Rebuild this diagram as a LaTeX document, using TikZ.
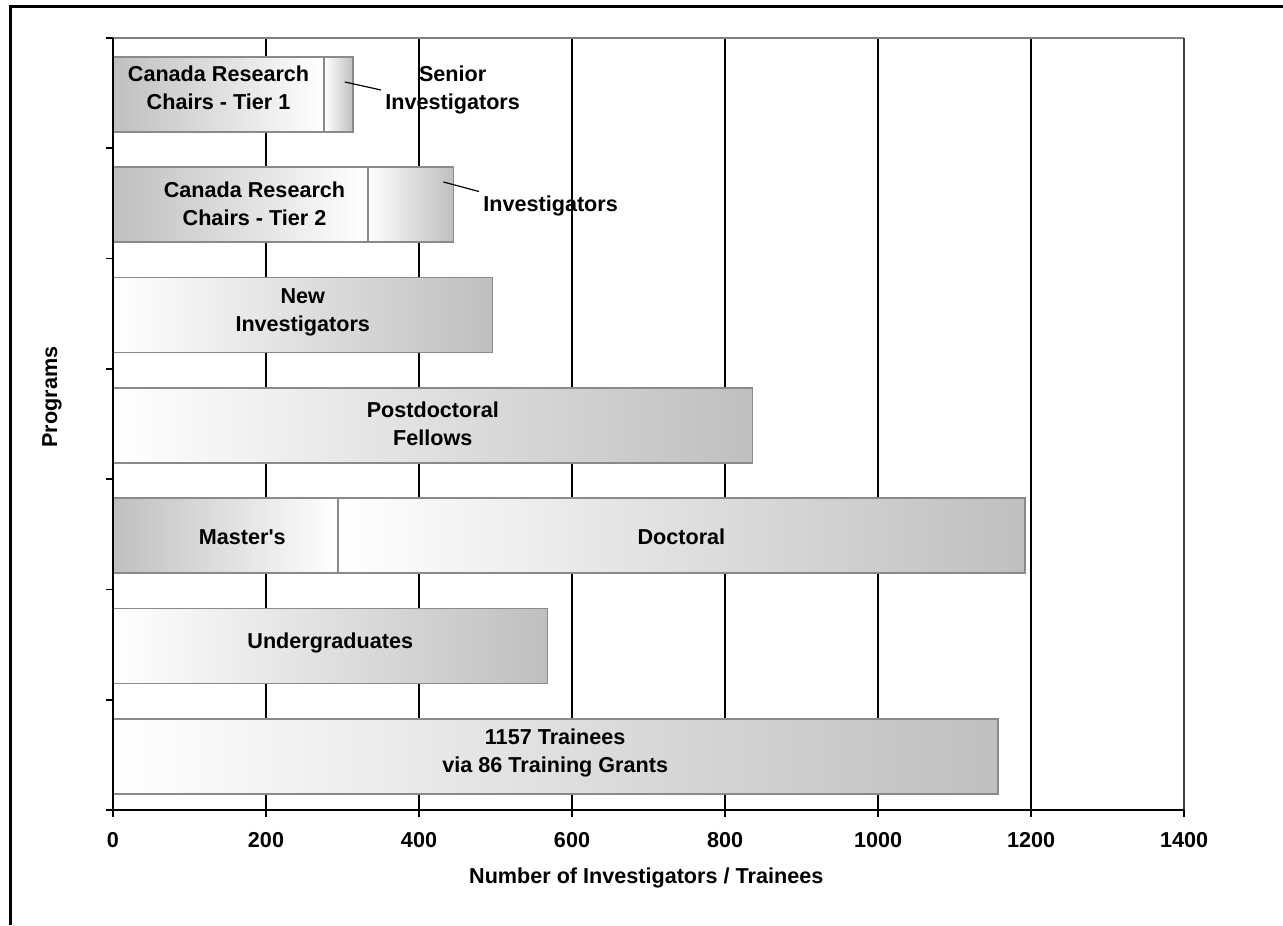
\documentclass[tikz,border=0pt]{standalone}
\usepackage{fontspec}
\setmainfont{Liberation Sans}
\definecolor{barline}{HTML}{8A8A8A}
\definecolor{barshade}{HTML}{BFBFBF}
\begin{document}
\begin{tikzpicture}[
	% pixel grid, y runs downwards
	x={(0.5pt,0)},
	y={(0,-0.5pt)},
	font=\bfseries\fontsize{10.8}{14}\selectfont,
	frame/.style={black,line width=1.5pt},
	axis/.style={black,line width=0.9pt},
	gridline/.style={black,line width=0.75pt},
	lbl/.style={align=center,inner sep=2pt},
	leader/.style={black,line width=0.6pt}
	]
	\useasboundingbox (0,0) rectangle (1283,925);
	% outer frame (cut by the page at right and bottom)
	\draw[frame] (10,925) -- (10,7) -- (1283,7);
	\node[rotate=90] (ytitle) at (52,397) {Programs};
	
	%
	% Plot area: x in data units, y in pixels
	%
	\begin{scope}[shift={(113,38)},x={(0.3825pt,0)}]
	% grid 200 -> 1200
	\foreach \v in {200,400,...,1200}{
		\draw[gridline] (\v,0) -- (\v,772);
	}
	\draw[gray,line width=0.75pt] (0,0) -- (1400,0);
	\draw[black!75,line width=0.9pt] (1400,0) -- (1400,772);
	
	% bars: row/from/to/left colour/right colour
	\foreach \i/\a/\b/\lc/\rc in {0/0/276/barshade/white, 0/276/314/white/barshade,
		1/0/333/barshade/white, 1/333/445/white/barshade, 2/0/496/white/barshade,
		3/0/836/white/barshade, 4/0/294/barshade/white, 4/294/1192/white/barshade,
		5/0/568/white/barshade, 6/0/1157/white/barshade}{
		\draw[draw=barline,line width=0.9pt,left color=\lc,right color=\rc]
		(\a,\i*110.29+19) rectangle (\b,\i*110.29+94);
	}
	
	% axes and ticks
	\draw[axis] (0,0) -- (0,772) -- (1400,772);
	\foreach \i in {0,...,7}{
		\draw[axis] (-9,\i*110.29) -- (0,\i*110.29);
	}
	\foreach \v in {0,200,...,1400}{
		\draw[axis] (\v,772) -- (\v,779);
		\node (tick\v) at (\v,802) {\v};
	}
	\node (xtitle) at (697,840) {Number of Investigators / Trainees};
	
	% bar labels
	\node[lbl] (tierone) at (138,50) {Canada Research\\Chairs - Tier 1};
	\node[lbl] (tiertwo) at (185,166) {Canada Research\\Chairs - Tier 2};
	\node[lbl] (senior) at (444,52) {Senior\\Investigators};
	\node[lbl] (inv) at (572,168) {Investigators};
	\coordinate (seniorpt) at (303,44);
	\coordinate (invpt) at (432,144);
	\draw[leader] (seniorpt) -- (senior.west);
	\draw[leader] (invpt) -- (inv.north west);
	\node[lbl] (newinv) at (248,274.5) {New\\Investigators};
	\node[lbl] (postdoc) at (418,385.5) {Postdoctoral\\Fellows};
	\node[lbl] (masters) at (169,499) {Master\textquotesingle s};
	\node[lbl] (doctoral) at (743,499) {Doctoral};
	\node[lbl] (undergrad) at (284,605) {Undergraduates};
	\node[lbl] (trainees) at (578,714.5) {1157 Trainees\\via 86 Training Grants};
	\end{scope}
\end{tikzpicture}
\end{document}
